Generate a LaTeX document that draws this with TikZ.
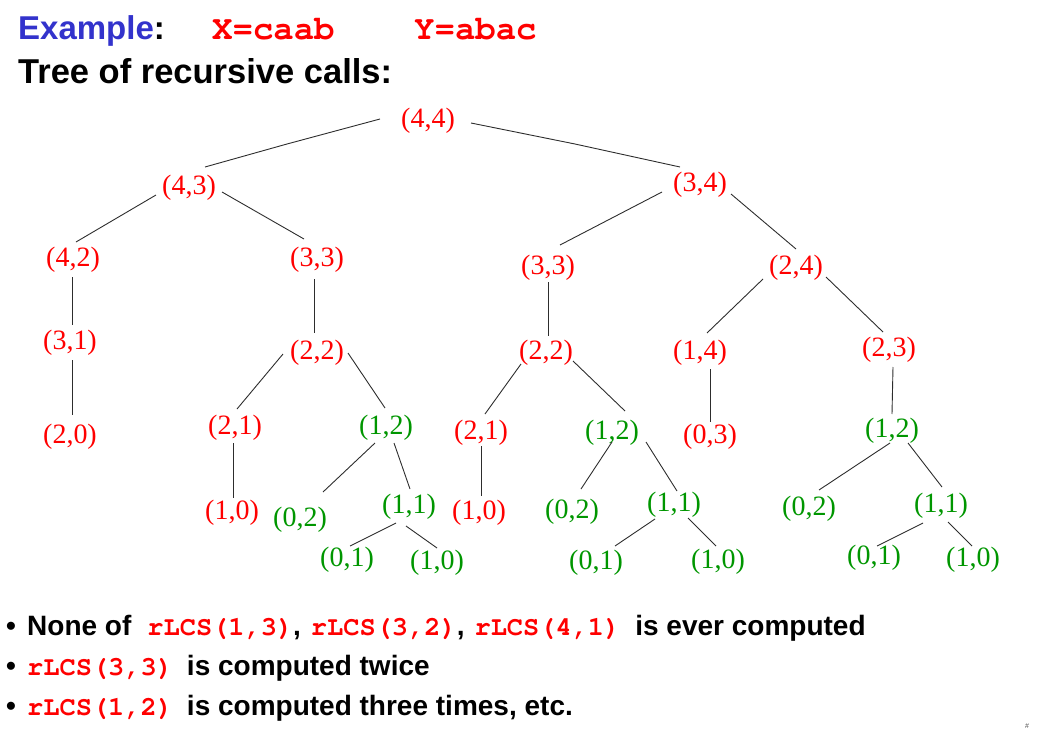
\documentclass[tikz,border=0pt]{standalone}
\usepackage[T1,TU]{fontenc}
\usepackage{fontspec}
\setmainfont{Liberation Serif}
\newfontfamily\arialfont{Liberation Sans}
\definecolor{tred}{RGB}{255,0,0}
\definecolor{tgreen}{RGB}{0,150,0}
\definecolor{tblue}{RGB}{51,51,204}
\definecolor{edgegray}{RGB}{45,45,45}
\newcommand\code[1]{{\fontencoding{T1}\fontfamily{pcr}\fontseries{b}\fontshape{n}\selectfont #1}}
\newcommand\Edge[6]{\draw[edgeline] ([shift={(#2,#3)}]#1.center) -- ([shift={(#5,#6)}]#4.center);}
\begin{document}
\begin{tikzpicture}[x=1pt,y=-1pt,
  tn/.style={inner sep=0pt, font=\fontsize{28}{31}\selectfont, text=tred},
  gn/.style={tn, text=tgreen},
  edgeline/.style={draw=edgegray, line width=0.9pt},
  hdr/.style={inner sep=0pt, anchor=base west, font=\arialfont\bfseries\fontsize{33}{36}\selectfont},
  bul/.style={inner sep=0pt, anchor=base west, font=\arialfont\bfseries\fontsize{28}{32}\selectfont}]
\useasboundingbox (0,0) rectangle (1037,731);
% header
\node[hdr] (ex) at (18,39) {\textcolor{tblue}{Example}:};
\node[hdr, text=tred] (xs) at (212,39) {\fontsize{34}{36}\code{X=caab}};
\node[hdr, text=tred] (ys) at (414,39) {\fontsize{34}{36}\code{Y=abac}};
\node[hdr] (tree) at (18,83) {\fontsize{34.5}{38}\selectfont Tree of recursive calls:};
% tree nodes
\node[tn] (n44) at (428,121) {(4,4)};
\node[tn] (n43) at (189,188) {(4,3)};
\node[tn] (n34) at (700,185) {(3,4)};
\node[tn] (n42) at (73,260) {(4,2)};
\node[tn] (n33a) at (317,260) {(3,3)};
\node[tn] (n33b) at (548,268) {(3,3)};
\node[tn] (n24) at (796,268) {(2,4)};
\node[tn] (n31) at (70,343) {(3,1)};
\node[tn] (n22a) at (317,353) {(2,2)};
\node[tn] (n22b) at (546,353) {(2,2)};
\node[tn] (n14) at (700,353) {(1,4)};
\node[tn] (n23) at (889,350) {(2,3)};
\node[tn] (n20) at (70,437) {(2,0)};
\node[tn] (n21a) at (235,428) {(2,1)};
\node[gn] (n12a) at (386,428) {(1,2)};
\node[tn] (n21b) at (481,433) {(2,1)};
\node[gn] (n12b) at (612,433) {(1,2)};
\node[tn] (n03) at (710,437) {(0,3)};
\node[gn] (n12c) at (892,431) {(1,2)};
\node[tn] (n10a) at (232,513) {(1,0)};
\node[gn] (n02a) at (300,520) {(0,2)};
\node[gn] (n11a) at (409,507) {(1,1)};
\node[tn] (n10b) at (479,513) {(1,0)};
\node[gn] (n02b) at (572,512) {(0,2)};
\node[gn] (n11b) at (674,505) {(1,1)};
\node[gn] (n02c) at (809,509) {(0,2)};
\node[gn] (n11c) at (941,506) {(1,1)};
\node[gn] (n01a) at (347,560) {(0,1)};
\node[gn] (n10c) at (437,563) {(1,0)};
\node[gn] (n01b) at (596,563) {(0,1)};
\node[gn] (n10d) at (718,562) {(1,0)};
\node[gn] (n01c) at (874,558) {(0,1)};
\node[gn] (n10e) at (973,560) {(1,0)};
% edges
\draw[edgeline] ([shift={(-48,-2)}]n44.center) -- ([shift={(-141,23)}]n44.center) -- ([shift={(16,-21)}]n43.center);
\draw[edgeline] ([shift={(43,2)}]n44.center) -- ([shift={(147,23)}]n44.center) -- ([shift={(-20,-18)}]n34.center);
\Edge{n43}{-33}{7}{n42}{3}{-18}
\Edge{n43}{33}{4}{n33a}{-13}{-21}
\Edge{n42}{-1}{17}{n31}{2}{-18}
\Edge{n31}{2}{17}{n20}{2}{-22}
\Edge{n33a}{-3}{19}{n22a}{-3}{-20}
\Edge{n22a}{-34}{1}{n21a}{2}{-19}
\Edge{n22a}{31}{0}{n12a}{-1}{-20}
\Edge{n21a}{-2}{15}{n10a}{1}{-15}
\Edge{n12a}{-11}{15}{n02a}{23}{-28}
\Edge{n12a}{8}{15}{n11a}{1}{-18}
\Edge{n11a}{-13}{16}{n01a}{3}{-14}
\Edge{n11a}{-3}{19}{n10c}{0}{-15}
\Edge{n34}{-38}{7}{n33b}{12}{-23}
\Edge{n34}{31}{9}{n24}{0}{-19}
\Edge{n33b}{0}{14}{n22b}{2}{-17}
\Edge{n24}{-33}{11}{n14}{7}{-20}
\Edge{n24}{30}{9}{n23}{-6}{-18}
\Edge{n22b}{-25}{11}{n21b}{4}{-19}
\Edge{n22b}{27}{8}{n12b}{13}{-22}
\Edge{n14}{10}{16}{n03}{0}{-15}
\Edge{n23}{4}{17}{n12c}{0}{-17}
\Edge{n21b}{0}{13}{n10b}{2}{-17}
\Edge{n12b}{0}{9}{n02b}{9}{-23}
\Edge{n12b}{34}{9}{n11b}{3}{-14}
\Edge{n11b}{-19}{14}{n01b}{19}{-17}
\Edge{n11b}{14}{13}{n10d}{-2}{-16}
\Edge{n12c}{-2}{12}{n02c}{10}{-19}
\Edge{n12c}{16}{12}{n11c}{1}{-19}
\Edge{n11c}{-18}{17}{n01c}{3}{-12}
\Edge{n11c}{7}{16}{n10e}{-1}{-14}
% bullets
\node[bul] (b1) at (6,635) {\textbullet};
\node[bul] (b2) at (6,675) {\textbullet};
\node[bul] (b3) at (6,715) {\textbullet};
\node[bul] (t1) at (27,635) {None of\hspace{16pt}\textcolor{tred}{\fontsize{27}{30}\code{rLCS(1,3)}},\hspace{10pt}\textcolor{tred}{\fontsize{27}{30}\code{rLCS(3,2)}},\hspace{10pt}\textcolor{tred}{\fontsize{27}{30}\code{rLCS(4,1)}}\hspace{15pt}is ever computed};
\node[bul] (t2) at (27,675) {\textcolor{tred}{\fontsize{27}{30}\code{rLCS(3,3)}}\hspace{14pt}is computed twice};
\node[bul] (t3) at (27,715) {\textcolor{tred}{\fontsize{27}{30}\code{rLCS(1,2)}}\hspace{14pt}is computed three times, etc.};
\node[inner sep=0pt, font=\arialfont\fontsize{7}{8}\selectfont, text=black!70] (pg) at (1027,726) {\#};
\end{tikzpicture}
\end{document}
